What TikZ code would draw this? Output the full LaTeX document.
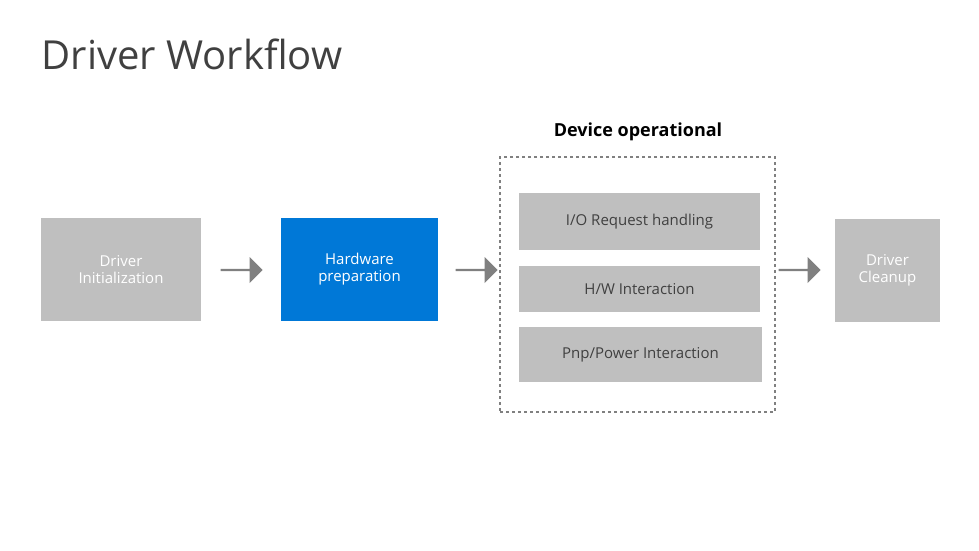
\documentclass[tikz,border=0pt]{standalone}
\usepackage{fontspec}
\setmainfont{Open Sans}
\usetikzlibrary{shapes.arrows}
\definecolor{boxgray}{HTML}{BFBFBF}
\definecolor{msblue}{HTML}{0078D7}
\definecolor{arrgray}{HTML}{808080}
\definecolor{txtgray}{HTML}{404040}
\begin{document}
\begin{tikzpicture}[x=1pt,y=-1pt,
  stage/.style={draw=none,fill=boxgray,text=white,minimum width=#1,minimum height=103pt,align=center,font=\fontsize{15}{17}\selectfont,inner sep=0pt},
  inner/.style={fill=boxgray,text=txtgray,minimum width=241pt,align=center,font=\fontsize{15}{17}\selectfont,inner sep=0pt},
  barrow/.style={single arrow,fill=arrgray,draw=none,minimum height=42pt,minimum width=26pt,single arrow head extend=2pt,inner sep=0pt}]
\useasboundingbox (0,0) rectangle (979,551);
\node[anchor=base west,text=txtgray,font=\fontsize{40}{44}\selectfont] (title) at (38,70) {Driver Workflow};
\node[stage=160pt] (init) at (121,269.5) {Driver\\Initialization};
\node[stage=157pt,fill=msblue] (hw) at (359.5,269.5) {Hardware\\preparation};
\node[stage=105pt] (clean) at (887.5,270) {Driver\\Cleanup};
\node[draw=arrgray,dashed,line width=1.5pt,minimum width=275pt,minimum height=255pt,inner sep=0pt] (dev) at (637.5,284.5) {};
\node[font=\bfseries\fontsize{18}{20}\selectfont,text=black] (devl) at (638,132) {Device operational};
\node[inner,minimum height=57pt] (io) at (639.5,221.5) {I/O Request handling};
\node[inner,minimum height=46pt] (hwi) at (639.5,289) {H/W Interaction};
\node[inner,minimum height=55pt,minimum width=243pt] (pnp) at (640.5,354.5) {Pnp/Power Interaction};
\node[barrow] (a1) at (241,270) {};
\node[barrow] (a2) at (476,270) {};
\node[barrow] (a3) at (799,270) {};
\end{tikzpicture}
\end{document}
